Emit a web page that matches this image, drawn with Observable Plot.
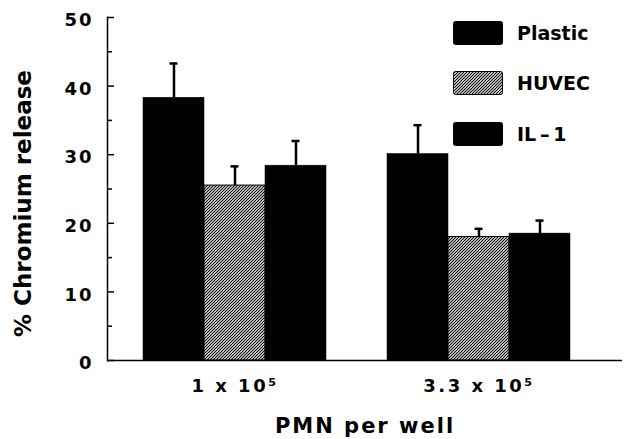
<!DOCTYPE html>
<html><head><meta charset="utf-8">
<script src="https://cdn.jsdelivr.net/npm/d3@7"></script>
<script src="https://cdn.jsdelivr.net/npm/@observablehq/plot@0.6"></script>
<style>
body{margin:0;background:#fff;}
#wrap{position:relative;width:624px;height:439px;font-family:"DejaVu Sans",sans-serif;font-weight:bold;color:#000;}
.leg{position:absolute;left:453px;height:24px;display:flex;align-items:center;}
.lt{margin-left:14px;font-size:19px;line-height:24px;}
</style></head><body><div id="wrap"></div>
<script>
const groups = ["1 x 10\u2075", "3.3 x 10\u2075"];
const series = ["Plastic", "HUVEC", "IL-1"];
const plasticMean = [38.3, 30.1];
const plasticErr  = [5.0, 4.2];
const huvecMean   = [25.5, 18.0];
const huvecErr    = [2.8, 1.2];
const il1Mean     = [28.4, 18.5];
const il1Err      = [3.6, 1.9];
const yMajor = [0, 10, 20, 30, 40, 50];
const yMinor = [5, 15, 25, 35, 45];

const means = {"Plastic": plasticMean, "HUVEC": huvecMean, "IL-1": il1Mean};
const errs  = {"Plastic": plasticErr,  "HUVEC": huvecErr,  "IL-1": il1Err};
const fills = {"Plastic": "black", "HUVEC": "url(#hatch)", "IL-1": "black"};

const data = [];
groups.forEach((g, gi) => series.forEach(s => data.push({
  group: g, series: s, key: g + "|" + s, value: means[s][gi], top: means[s][gi] + errs[s][gi]
})));
const domain = [];
groups.forEach((g, gi) => { if (gi > 0) domain.push("gap" + gi); series.forEach(s => domain.push(g + "|" + s)); });

const defs = () => {
  const d = d3.create("svg:defs");
  const p = d.append("pattern").attr("id", "hatch").attr("patternUnits", "userSpaceOnUse")
    .attr("width", 3).attr("height", 3);
  p.append("rect").attr("width", 3).attr("height", 3).attr("fill", "white");
  p.append("path").attr("d", "M0,3L3,0M-1,1L1,-1M2,4L4,2").attr("stroke", "black").attr("stroke-width", 1.1);
  return d.node();
};

const font = "DejaVu Sans, sans-serif";
const chart = Plot.plot({
  width: 624, height: 439,
  marginTop: 17, marginBottom: 79, marginLeft: 107, marginRight: 2,
  style: {fontFamily: font, fontWeight: "bold", background: "white", color: "black"},
  x: {domain, range: [140, 572], padding: 0, axis: null},
  y: {domain: [0, 50], axis: null},
  marks: [
    defs,
    ...series.map(s => Plot.barY(data.filter(d => d.series === s), {
      x: "key", y: "value", fill: fills[s], stroke: "black", strokeWidth: s === "HUVEC" ? 1 : 0.5
    })),
    Plot.ruleX(data, {x: "key", y1: "value", y2: "top", strokeWidth: 2.5}),
    Plot.tickY(data, {x: "key", y: "top", insetLeft: 26.5, insetRight: 26.5, strokeWidth: 2.5}),
    Plot.ruleY([0], {strokeWidth: 1.5}),
    Plot.frame({anchor: "left", strokeWidth: 1.5}),
    Plot.axisY({ticks: yMajor, tickSize: 0, tickPadding: 14, dy: 3, fontSize: 18, label: null}),
    Plot.axisY({ticks: yMajor, tickSize: -7, tickFormat: () => "", label: null, strokeWidth: 1.5}),
    Plot.axisY({ticks: yMinor, tickSize: -5, tickFormat: () => "", label: null, strokeWidth: 1.5}),
    Plot.axisX({ticks: groups.map(g => g + "|HUVEC"), tickSize: 0, tickPadding: 19, fontSize: 18,
      tickFormat: k => k.split("|")[0], label: null}),
    Plot.text(["PMN per well"], {frameAnchor: "bottom", dy: 72, fontSize: 21, fontWeight: "bold"}),
    Plot.text(["% Chromium release"], {frameAnchor: "left", textAnchor: "middle", dx: -84, dy: 14.5, rotate: -90, fontSize: 23, fontWeight: "bold"})
  ]
});
const wrap = document.getElementById("wrap");
wrap.appendChild(chart);
d3.select(chart).selectAll("text").each(function() {
  const t = this.textContent;
  let ls = null;
  if (/^\d+$/.test(t)) ls = "2px";
  else if (groups.includes(t)) ls = "2.5px";
  else if (t === "PMN per well") ls = "2px";
  if (ls) this.setAttribute("letter-spacing", ls);
});

const legTops = [21, 71, 122];
series.forEach((s, i) => {
  const item = document.createElement("div");
  item.className = "leg";
  item.style.top = legTops[i] + "px";
  const sw = document.createElementNS("http://www.w3.org/2000/svg", "svg");
  sw.setAttribute("width", 50); sw.setAttribute("height", 24);
  const r = document.createElementNS("http://www.w3.org/2000/svg", "rect");
  r.setAttribute("x", 0.5); r.setAttribute("y", 0.5); r.setAttribute("width", 49); r.setAttribute("height", 23);
  r.setAttribute("rx", 2); r.setAttribute("fill", fills[s]); r.setAttribute("stroke", "black");
  sw.appendChild(r);
  const t = document.createElement("span");
  t.className = "lt"; t.textContent = s === "IL-1" ? "IL\u2009\u2013\u20091" : s;
  item.appendChild(sw); item.appendChild(t);
  wrap.appendChild(item);
});
</script></body></html>
